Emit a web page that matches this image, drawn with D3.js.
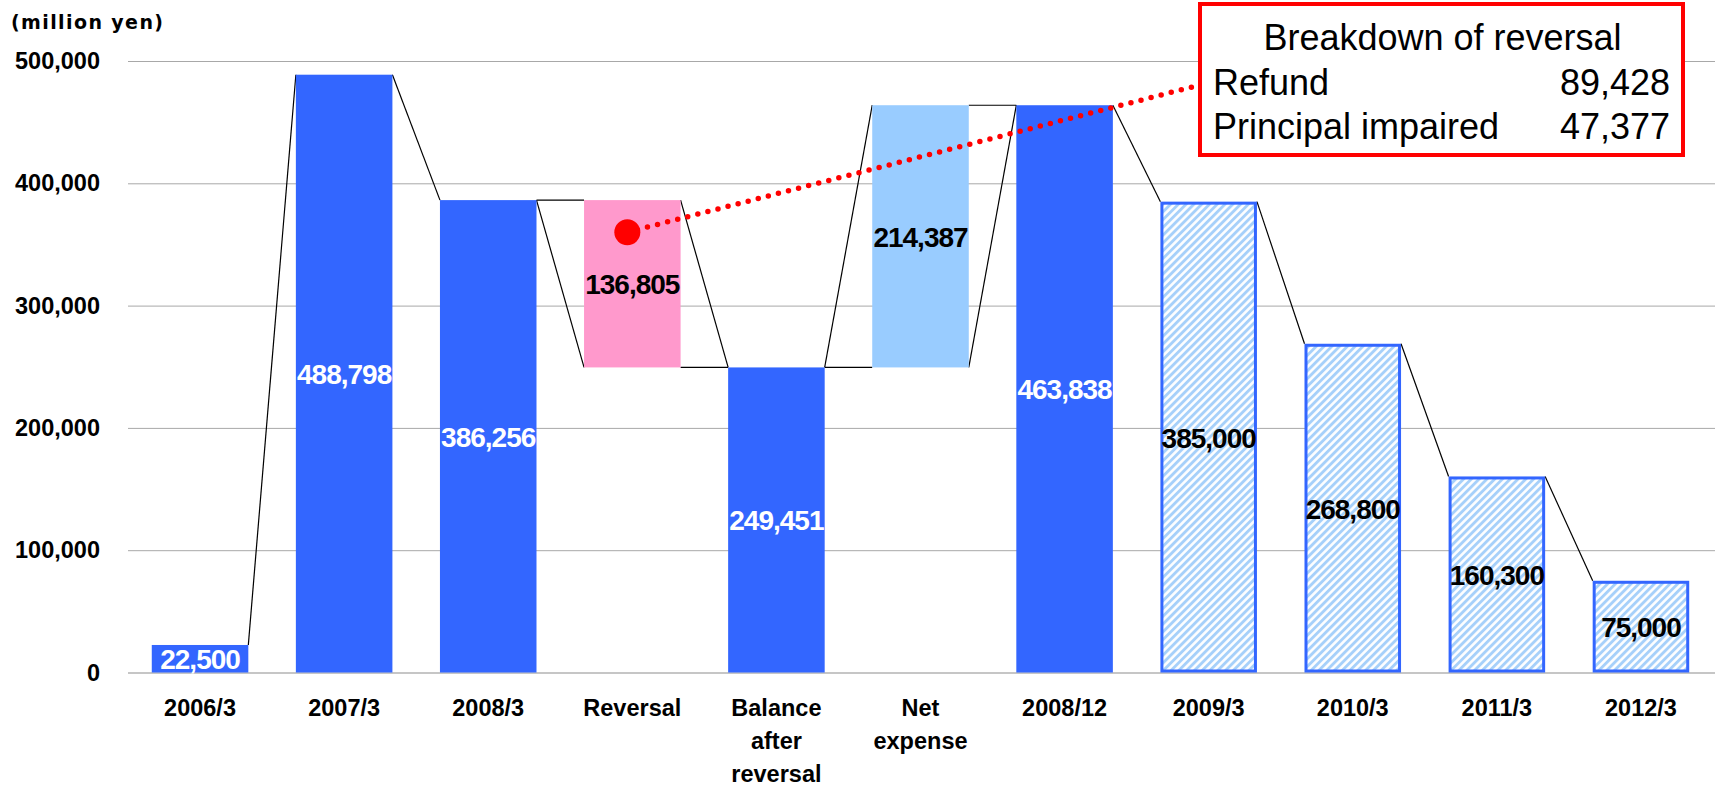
<!DOCTYPE html>
<html>
<head>
<meta charset="utf-8">
<script src="https://cdn.jsdelivr.net/npm/d3@7"></script>
<style>
  html, body { margin: 0; padding: 0; background: #fff; }
  svg { display: block; font-family: "Liberation Sans", Arial, sans-serif; }
</style>
</head>
<body>
<svg id="chart" width="1715" height="786"></svg>
<script>
// Balance of the provision (million yen)
const categories = ["2006/3", "2007/3", "2008/3", "Reversal", "Balance after reversal",
                    "Net expense", "2008/12", "2009/3", "2010/3", "2011/3", "2012/3"];
const categoryLines = [["2006/3"], ["2007/3"], ["2008/3"], ["Reversal"], ["Balance", "after", "reversal"],
                       ["Net", "expense"], ["2008/12"], ["2009/3"], ["2010/3"], ["2011/3"], ["2012/3"]];
const values = [22500, 488798, 386256, 136805, 249451, 214387, 463838, 385000, 268800, 160300, 75000];
// balance = stock at a date, decrease / increase = flow, forecast = planned balance
const kinds = ["balance", "balance", "balance", "decrease", "balance", "increase",
               "balance", "forecast", "forecast", "forecast", "forecast"];
const yTicks = [0, 100000, 200000, 300000, 400000, 500000];

const breakdownTitle = "Breakdown of reversal";
const breakdownItems = ["Refund", "Principal impaired"];
const breakdownValues = [89428, 47377];

const fmt = d3.format(",");

// floating extents for each bar
const bars = [];
let running = 0;
categories.forEach((c, i) => {
  let lo, hi;
  if (kinds[i] === "decrease") { hi = running; lo = running - values[i]; running = lo; }
  else if (kinds[i] === "increase") { lo = running; hi = running + values[i]; running = hi; }
  else { lo = 0; hi = values[i]; running = hi; }
  bars.push({ cat: c, lines: categoryLines[i], value: values[i], kind: kinds[i], lo, hi });
});

const svg = d3.select("#chart");
const plotLeft = 128, plotRight = 1713, plotTop = 61, plotBottom = 672.5;

const x = d3.scaleBand().domain(categories).range([plotLeft, plotRight]).paddingInner(0.33).paddingOuter(0.165);
const y = d3.scaleLinear().domain([0, 500000]).range([plotBottom, plotTop]);

const defs = svg.append("defs");
const pat = defs.append("pattern")
  .attr("id", "hatch").attr("patternUnits", "userSpaceOnUse")
  .attr("width", 5.5).attr("height", 5.5).attr("patternTransform", "rotate(45)");
pat.append("rect").attr("width", 5.5).attr("height", 5.5).attr("fill", "#a6d0fa");
pat.append("line").attr("x1", 1.4).attr("y1", 0).attr("x2", 1.4).attr("y2", 5.5)
  .attr("stroke", "#ffffff").attr("stroke-width", 2.6);

// grid + y axis
const yAxis = d3.axisLeft(y).tickValues(yTicks).tickFormat(fmt)
  .tickSize(-(1715 - plotLeft)).tickPadding(28);
const gy = svg.append("g").attr("transform", `translate(${plotLeft},0)`).call(yAxis);
gy.select(".domain").remove();
gy.selectAll(".tick line").attr("stroke", d => d === 0 ? "#c6c6c6" : "#a8a8a8")
  .attr("stroke-width", d => d === 0 ? 2 : 1);
gy.selectAll(".tick text").attr("fill", "#000").attr("font-size", 23.5).attr("font-weight", "bold")
  .attr("font-family", "'Liberation Sans', Arial, sans-serif");

svg.append("text").attr("x", 11).attr("y", 29)
  .attr("font-family", "'DejaVu Sans', sans-serif").attr("font-weight", "bold")
  .attr("font-size", 19).attr("letter-spacing", 1.4).attr("fill", "#000")
  .text("(million yen)");

// connector lines between adjacent bars
const conn = svg.append("g").attr("stroke", "#000").attr("stroke-width", 1.2).attr("fill", "none");
for (let i = 0; i < bars.length - 1; i++) {
  const a = bars[i], b = bars[i + 1];
  const xa = x(a.cat) + x.bandwidth(), xb = x(b.cat);
  const segs = [[a.hi, b.hi]];
  if (b.lo > 0) segs.push([a.hi, b.lo]);
  if (a.lo > 0) segs.push([a.lo, b.hi]);
  segs.forEach(([v1, v2]) => {
    conn.append("line").attr("x1", xa).attr("y1", y(v1)).attr("x2", xb).attr("y2", y(v2));
  });
}

// bars
const fillFor = k => k === "decrease" ? "#ff99cc" : k === "increase" ? "#99ccff"
  : k === "forecast" ? "url(#hatch)" : "#3366ff";
svg.append("g").selectAll("rect").data(bars).join("rect")
  .attr("x", d => d.kind === "forecast" ? x(d.cat) + 1.5 : x(d.cat))
  .attr("width", d => d.kind === "forecast" ? x.bandwidth() - 3 : x.bandwidth())
  .attr("y", d => y(d.hi) + (d.kind === "forecast" ? 1.5 : 0))
  .attr("height", d => y(d.lo) - y(d.hi) - (d.kind === "forecast" ? 3 : 0))
  .attr("fill", d => fillFor(d.kind))
  .attr("stroke", d => d.kind === "forecast" ? "#3366ff" : "none")
  .attr("stroke-width", 3);

// value labels
svg.append("g").selectAll("text").data(bars).join("text")
  .attr("x", d => x(d.cat) + x.bandwidth() / 2)
  .attr("y", d => (y(d.lo) + y(d.hi)) / 2 + 1)
  .attr("text-anchor", "middle").attr("dominant-baseline", "central")
  .attr("font-size", 28).attr("font-weight", "bold").attr("letter-spacing", -1)
  .attr("fill", d => d.kind === "balance" ? "#ffffff" : "#000000")
  .text(d => fmt(d.value));

// category labels
const gx = svg.append("g");
bars.forEach(d => {
  const t = gx.append("text").attr("text-anchor", "middle")
    .attr("font-size", 23.5).attr("font-weight", "bold").attr("fill", "#000");
  d.lines.forEach((ln, j) => {
    t.append("tspan").attr("x", x(d.cat) + x.bandwidth() / 2).attr("y", 716 + j * 33).text(ln);
  });
});

// callout: dot on the reversal bar, dotted leader to the breakdown box
const rev = bars[3];
const dotX = x(rev.cat) + x.bandwidth() / 2 - 5, dotY = y(360000);
const boxX = 1200, boxY = 4, boxW = 483, boxH = 151;
svg.append("line").attr("x1", dotX).attr("y1", dotY).attr("x2", boxX - 4).attr("y2", 86)
  .attr("stroke", "#ff0000").attr("stroke-width", 5.5).attr("stroke-linecap", "round")
  .attr("stroke-dasharray", "0 10.4");
svg.append("circle").attr("cx", dotX).attr("cy", dotY).attr("r", 13).attr("fill", "#ff0000");

svg.append("rect").attr("x", boxX).attr("y", boxY).attr("width", boxW).attr("height", boxH)
  .attr("fill", "#fff").attr("stroke", "#ff0000").attr("stroke-width", 4);
svg.append("text").attr("x", boxX + boxW / 2 + 1).attr("y", 50).attr("text-anchor", "middle")
  .attr("font-size", 36).attr("fill", "#000").text(breakdownTitle);
breakdownItems.forEach((item, i) => {
  svg.append("text").attr("x", boxX + 13).attr("y", 95 + i * 44)
    .attr("font-size", 36).attr("fill", "#000").text(item);
  svg.append("text").attr("x", boxX + boxW - 13).attr("y", 95 + i * 44).attr("text-anchor", "end")
    .attr("font-size", 36).attr("fill", "#000").text(fmt(breakdownValues[i]));
});
</script>
</body>
</html>
